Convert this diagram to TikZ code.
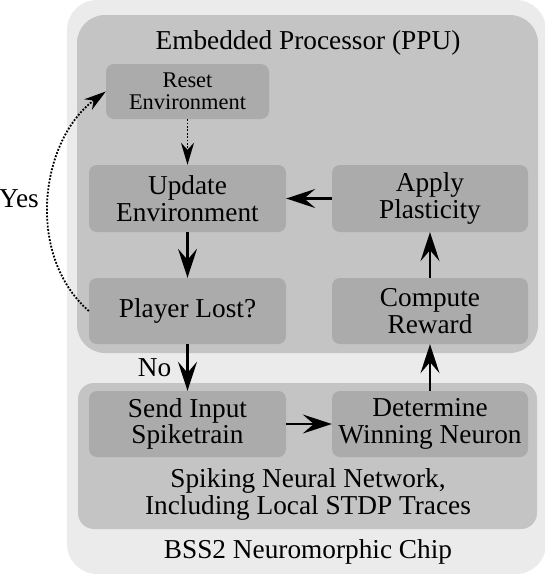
\documentclass[tikz,border=0pt]{standalone}
\usepackage{fontspec}
\setmainfont{Liberation Serif}
\usetikzlibrary{arrows.meta}
\definecolor{outergray}{HTML}{EBEBEB}
\definecolor{groupgray}{HTML}{C4C4C4}
\definecolor{boxgray}{HTML}{ABABAB}
\newcommand{\figbig}{\fontsize{27.3}{26.5}\selectfont}
\newcommand{\figsmall}{\fontsize{22.4}{22}\selectfont}
\begin{document}
\begin{tikzpicture}[x=1pt,y=-1pt,
  outerbox/.style={fill=outergray, draw=none, rounded corners=30pt, inner sep=0pt},
  groupbox/.style={fill=groupgray, draw=none, inner sep=0pt},
  stepbox/.style={fill=boxgray, draw=none, rounded corners=8pt, align=center, font=\figbig, inner sep=0pt},
  flow/.style={-{Stealth[length=29pt,width=19pt,inset=11pt]}, line width=2.3pt},
  dotflow/.style={-{Stealth[length=22pt,width=13pt,inset=7pt]}, line width=1.8pt, dash pattern=on 1.8pt off 1.6pt},
  lbl/.style={font=\figbig, inner sep=0pt},
]
\useasboundingbox (0,0) rectangle (545,574);

% containers
\node[outerbox, minimum width=479pt, minimum height=574pt] (chip) at (306.5,287) {};
\node[groupbox, rounded corners=28pt, minimum width=461pt, minimum height=338pt] (ppu) at (307.5,184) {};
\node[groupbox, rounded corners=16pt, minimum width=459pt, minimum height=146pt] (snn) at (307.5,456) {};

% titles
\node[lbl, anchor=base] (ppulabel) at (308,49) {Embedded Processor (PPU)};
\node[lbl, anchor=base] (snnlabel1) at (308,487) {Spiking Neural Network,};
\node[lbl, anchor=base] (snnlabel2) at (308,514) {Including Local STDP Traces};
\node[lbl, anchor=base] (chiplabel) at (308,558) {BSS2 Neuromorphic Chip};

% steps
\node[stepbox, font=\figsmall, minimum width=163pt, minimum height=55pt] (reset) at (187.5,91.5) {Reset\\Environment};
\node[stepbox, minimum width=197pt, minimum height=67pt] (update) at (187.5,198.5) {Update\\Environment};
\node[stepbox, minimum width=196pt, minimum height=67pt] (apply) at (430,198.5) {Apply\\Plasticity};
\node[stepbox, minimum width=197pt, minimum height=66pt] (lost) at (187.5,311) {Player Lost?};
\node[stepbox, minimum width=196pt, minimum height=66pt] (compute) at (430,311) {Compute\\Reward};
\node[stepbox, minimum width=197pt, minimum height=66pt] (send) at (187.5,424) {Send Input\\Spiketrain};
\node[stepbox, minimum width=196pt, minimum height=66pt] (determine) at (430,424) {Determine\\Winning Neuron};

% connectors
\draw[dotflow] (reset) -- (update);
\draw[flow] (update) -- (lost);
\draw[flow] (lost) -- node[lbl, midway, anchor=east, xshift=-15pt] (no) {No} (send);
\draw[flow] (send) -- (determine);
\draw[flow] (determine) -- (compute);
\draw[flow] (compute) -- (apply);
\draw[flow] (apply) -- (update);
\draw[dotflow] (lost.west) .. controls (25,255) and (40,140) .. node[lbl, pos=0.5, anchor=east, xshift=-9pt] (yes) {Yes} (reset.west);
\end{tikzpicture}
\end{document}
